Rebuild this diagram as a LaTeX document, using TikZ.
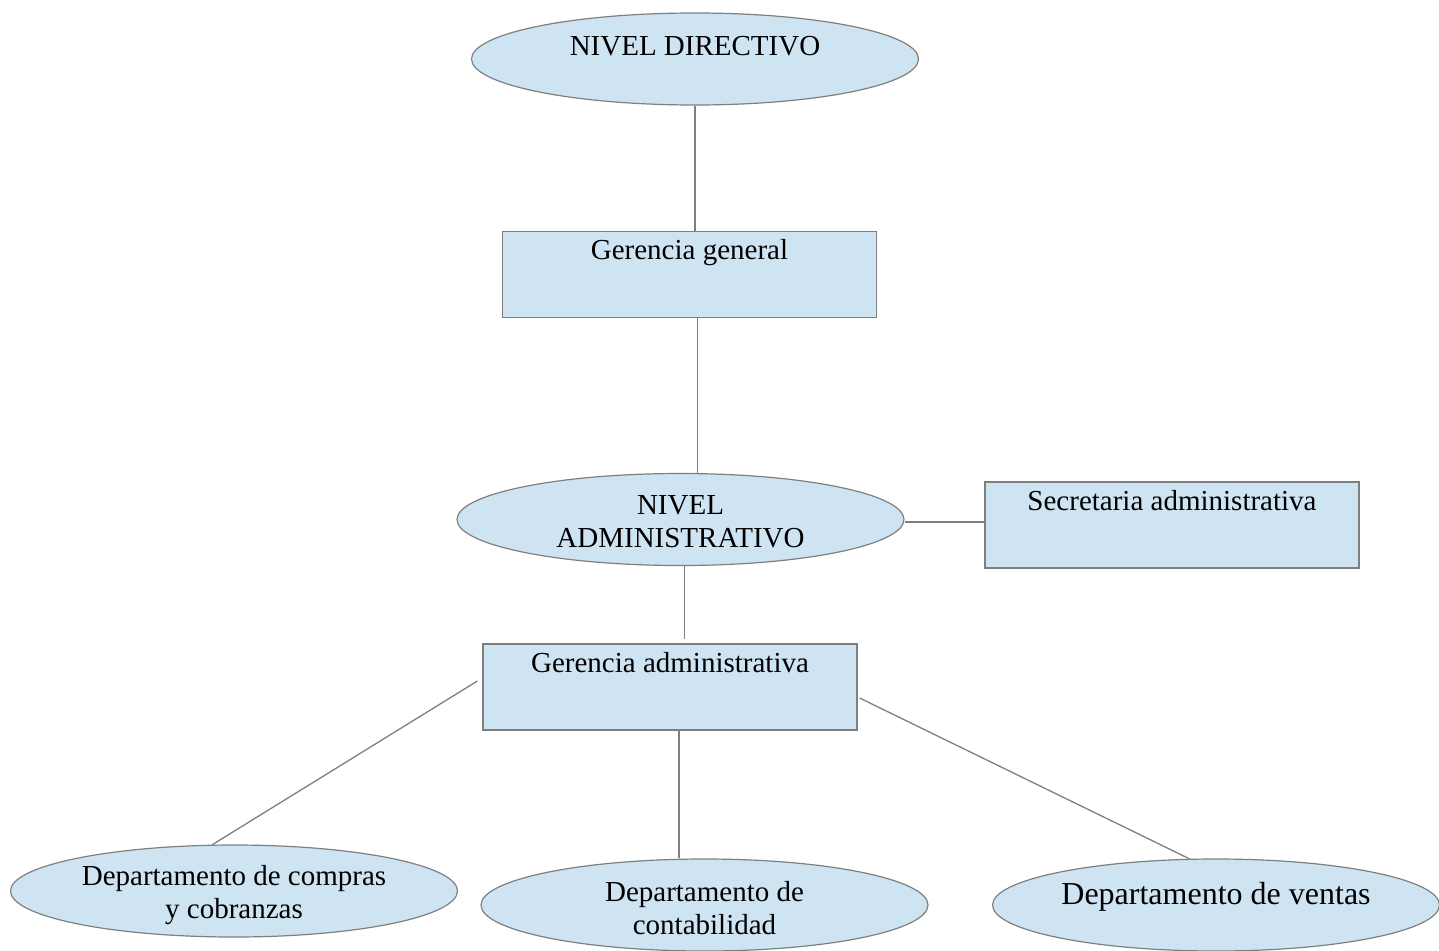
\documentclass[tikz,border=0pt]{standalone}
\usepackage{fontspec}
\setmainfont{Liberation Serif}
\usetikzlibrary{shapes.geometric,positioning}
\definecolor{boxblue}{HTML}{CFE4F3}
\definecolor{edgegray}{HTML}{7F7F7F}
\begin{document}
\begin{tikzpicture}[x=1pt,y=-1pt,
  shapebase/.style={draw=edgegray,fill=boxblue,line width=1.2pt,inner sep=0pt},
  oval/.style={shapebase,ellipse,minimum width=447pt,minimum height=92pt},
  unit/.style={shapebase,rectangle,minimum width=374pt,minimum height=86pt},
  txt/.style={font=\fontsize{29}{33}\selectfont,align=center,inner sep=0pt,anchor=base},
  link/.style={draw=edgegray,line width=1.3pt}]
  \useasboundingbox (0,0) rectangle (1439,950);
  % shapes
  \node [oval] (dir) at (695,59) {};
  \node [unit] (gg) at (689.5,274.5) {};
  \node [oval] (adm) at (680.5,519.5) {};
  \node [unit] (sec) at (1172,525) {};
  \node [unit] (ga) at (670,687) {};
  \node [oval] (compras) at (234,891) {};
  \node [oval] (cont) at (704.5,905) {};
  \node [oval] (ventas) at (1216,905) {};
  % texts (base = last line)
  \node [txt] (dir-t) at ([yshift=-43pt]dir.north) {NIVEL DIRECTIVO};
  \node [txt] (gg-t) at ([yshift=-29pt]gg.north) {Gerencia general};
  \node [txt] (adm-t) at ([yshift=-75pt]adm.north) {NIVEL\\ADMINISTRATIVO};
  \node [txt] (sec-t) at ([yshift=-29pt]sec.north) {Secretaria administrativa};
  \node [txt] (ga-t) at ([yshift=-29pt]ga.north) {Gerencia administrativa};
  \node [txt] (compras-t) at ([yshift=-74pt]compras.north) {Departamento de compras\\y cobranzas};
  \node [txt] (cont-t) at ([yshift=-76pt]cont.north) {Departamento de\\contabilidad};
  \node [txt,font=\fontsize{32}{36}\selectfont] (ventas-t) at ([yshift=-46pt]ventas.north) {Departamento de ventas};
  % connectors
  \draw [link] (dir.south) -- (dir.south |- gg.north);
  \draw [link] ([xshift=8pt]gg.south) -- ([xshift=8pt]gg.south |- adm.north);
  \draw [link] ([yshift=-2.5pt]adm.east) -- ([yshift=-2.5pt]sec.west |- adm.east);
  \draw [link] ([xshift=4pt]adm.south) -- ([shift={(4pt,4pt)}]adm.south |- ga.north);
  \draw [link] ([shift={(-5pt,6pt)}]ga.west) -- (compras.115.6);
  \draw [link] ([xshift=9pt]ga.south) -- ([xshift=9pt]ga.south |- cont.north);
  \draw [link] ([shift={(2pt,-11pt)}]ga.east) -- (ventas.120.8);
\end{tikzpicture}
\end{document}
